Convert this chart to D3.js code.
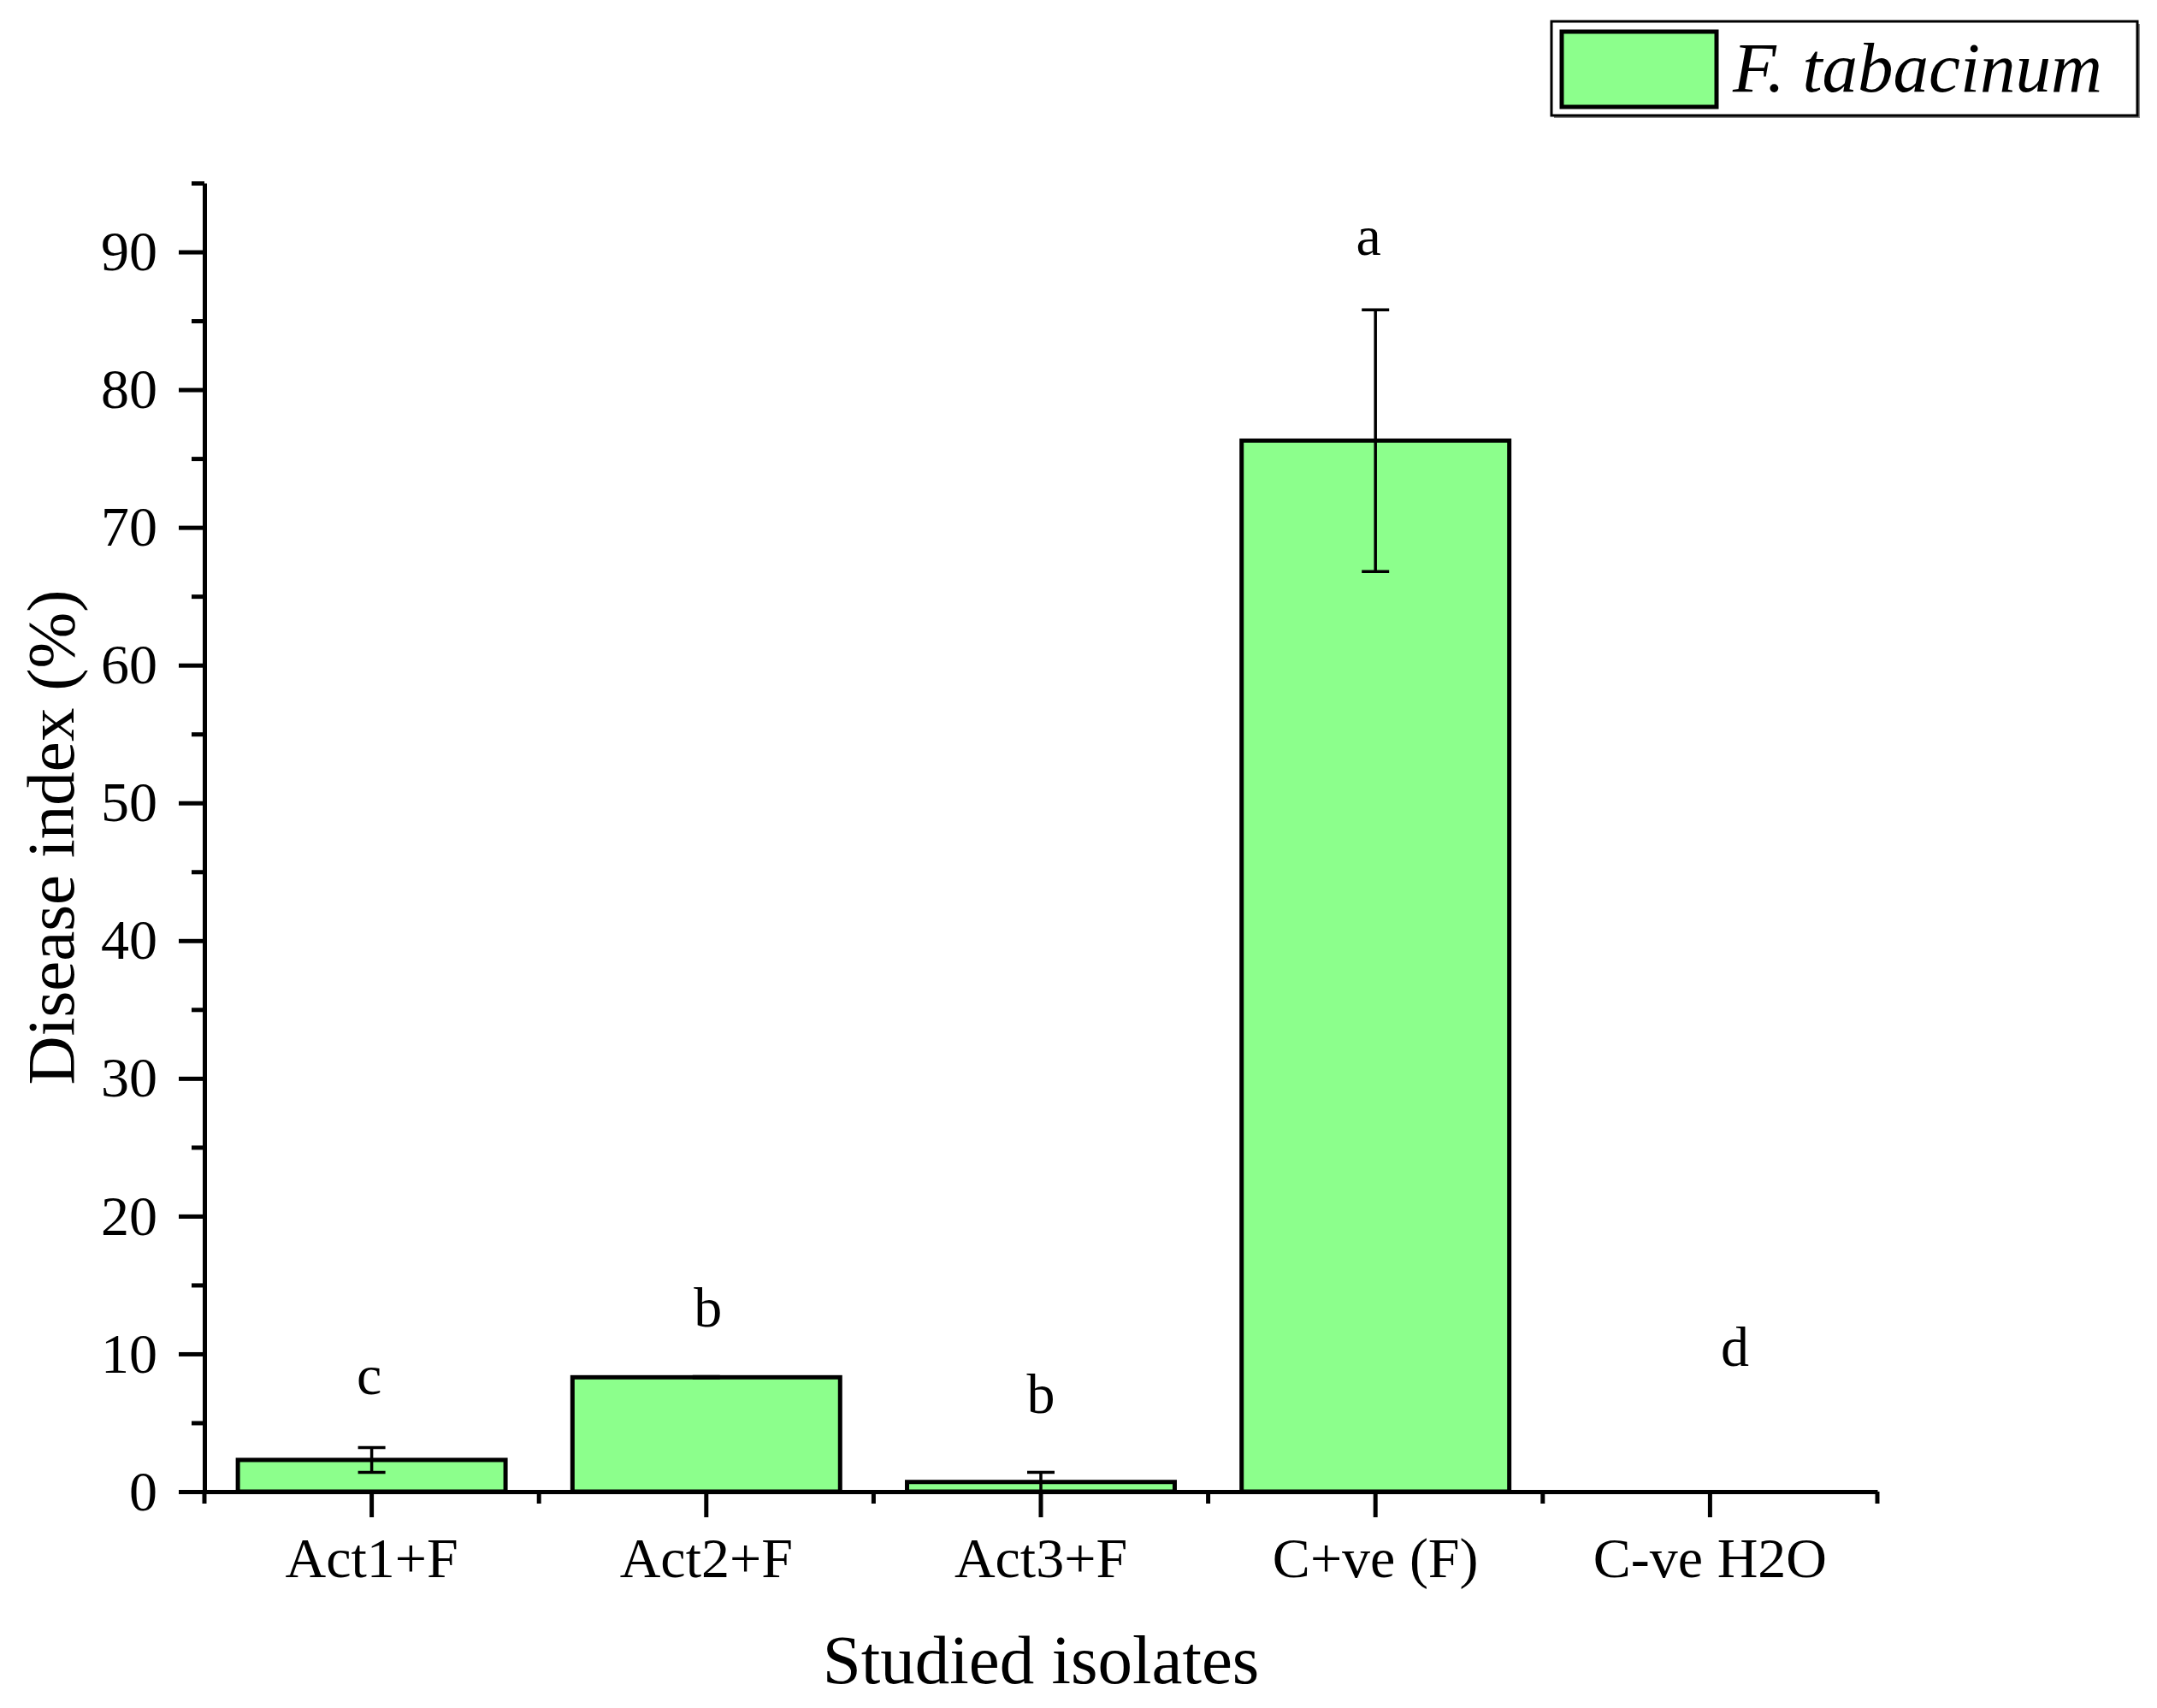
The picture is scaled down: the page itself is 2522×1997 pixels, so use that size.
<!DOCTYPE html>
<html>
<head>
<meta charset="utf-8">
<script src="https://cdn.jsdelivr.net/npm/d3@7"></script>
<style>
  body { margin: 0; background: #fff; }
  text { font-family: "Liberation Serif", "Times New Roman", serif; fill: #000; }
</style>
</head>
<body>
<div id="chart"></div>
<script>
// data
const categories = ["Act1+F", "Act2+F", "Act3+F", "C+ve (F)", "C-ve H2O"];
const means = [2.3, 8.3, 0.7, 76.3, 0];
const errors = [0.9, 0.05, 0.7, 9.5, 0];
const letters = ["c", "b", "b", "a", "d"];
// where each significance letter sits (y in data units)
const letterAt = [7.1, 12.0, 5.7, 89.8, 9.1];
const yTicks = [0, 10, 20, 30, 40, 50, 60, 70, 80, 90];
const yMinor = [5, 15, 25, 35, 45, 55, 65, 75, 85, 95];
const seriesName = "F. tabacinum";

const W = 2522, H = 1997;
const plotLeft = 239, plotRight = 2195, plotTop = 214, plotBottom = 1744;
const green = "#8cff8c";

const svg = d3.select("#chart")
  .append("svg")
    .attr("width", W)
    .attr("height", H);

// scales
const x = d3.scaleBand()
  .domain(categories)
  .range([plotLeft, plotRight])
  .paddingInner(0.2)
  .paddingOuter(0.1);

const y = d3.scaleLinear()
  .domain([0, 95])
  .range([plotBottom, plotTop]);

// bars
svg.selectAll(".bar")
  .data(categories)
  .join("rect")
    .attr("class", "bar")
    .attr("x", d => x(d))
    .attr("y", (d, i) => y(means[i]))
    .attr("width", x.bandwidth())
    .attr("height", (d, i) => plotBottom - y(means[i]))
    .attr("fill", green)
    .attr("stroke", "#000")
    .attr("stroke-width", 5)
    .style("display", (d, i) => means[i] > 0 ? null : "none");

// error bars
const eb = svg.append("g")
  .attr("stroke", "#000")
  .attr("stroke-width", 3.5);
categories.forEach((c, i) => {
  if (means[i] === 0) return;
  const cx = x(c) + x.bandwidth() / 2;
  const lo = Math.max(0, means[i] - errors[i]), hi = means[i] + errors[i];
  eb.append("line").attr("x1", cx).attr("x2", cx).attr("y1", y(lo)).attr("y2", y(hi));
  eb.append("line").attr("x1", cx - 16).attr("x2", cx + 16).attr("y1", y(hi)).attr("y2", y(hi));
  if (lo > 0)
    eb.append("line").attr("x1", cx - 16).attr("x2", cx + 16).attr("y1", y(lo)).attr("y2", y(lo));
});

// significance letters
const letterDx = [-3, 2, 0, -8, 29];
svg.selectAll(".letter")
  .data(categories)
  .join("text")
    .attr("class", "letter")
    .attr("x", (d, i) => x(d) + x.bandwidth() / 2 + letterDx[i])
    .attr("y", (d, i) => y(letterAt[i]))
    .attr("text-anchor", "middle")
    .style("font-size", "66px")
    .text((d, i) => letters[i]);

// Y axis (major + minor)
svg.append("g")
  .attr("transform", `translate(${plotLeft},0)`)
  .call(d3.axisLeft(y).tickValues(yTicks).tickSize(30).tickSizeOuter(0).tickPadding(25));
svg.append("g")
  .attr("transform", `translate(${plotLeft},0)`)
  .call(d3.axisLeft(y).tickValues(yMinor).tickSize(15).tickSizeOuter(0).tickFormat(""))
  .select(".domain").remove();

// X axis
svg.append("g")
  .attr("transform", `translate(0,${plotBottom})`)
  .call(d3.axisBottom(x).tickSize(30).tickSizeOuter(0).tickPadding(23));

// minor x ticks at the category boundaries
const bounds = categories.map(c => x(c) + x.bandwidth() / 2 - x.step() / 2);
bounds.push(plotRight);
svg.append("g")
  .selectAll("line")
  .data(bounds)
  .join("line")
    .attr("x1", d => d).attr("x2", d => d)
    .attr("y1", plotBottom).attr("y2", plotBottom + 14)
    .attr("stroke", "#000")
    .attr("stroke-width", 5);

svg.selectAll(".domain").attr("stroke", "#000").attr("stroke-width", 5);
svg.selectAll(".tick line").attr("stroke", "#000").attr("stroke-width", 5);
svg.selectAll(".tick text")
  .style("font-family", "'Liberation Serif', 'Times New Roman', serif")
  .style("font-size", "66px")
  .attr("fill", "#000");

// axis titles
svg.append("text")
  .attr("transform", `translate(${(plotLeft + plotRight) / 2},1968)`)
  .attr("text-anchor", "middle")
  .style("font-size", "81px")
  .text("Studied isolates");

svg.append("text")
  .attr("transform", `translate(86,${(plotTop + plotBottom) / 2}) rotate(-90)`)
  .attr("text-anchor", "middle")
  .style("font-size", "79px")
  .text("Disease index (%)");

// legend
const lg = svg.append("g").attr("transform", "translate(1814,25)");
lg.append("rect")
  .attr("x", 3).attr("y", 3).attr("width", 685).attr("height", 110)
  .attr("fill", "#888");
lg.append("rect")
  .attr("width", 685).attr("height", 110)
  .attr("fill", "#fff")
  .attr("stroke", "#000")
  .attr("stroke-width", 3);
lg.append("rect")
  .attr("x", 12).attr("y", 12).attr("width", 181).attr("height", 88)
  .attr("fill", green)
  .attr("stroke", "#000")
  .attr("stroke-width", 5);
lg.append("text")
  .attr("x", 212).attr("y", 82)
  .style("font-size", "83px")
  .style("font-style", "italic")
  .text(seriesName);
</script>
</body>
</html>
